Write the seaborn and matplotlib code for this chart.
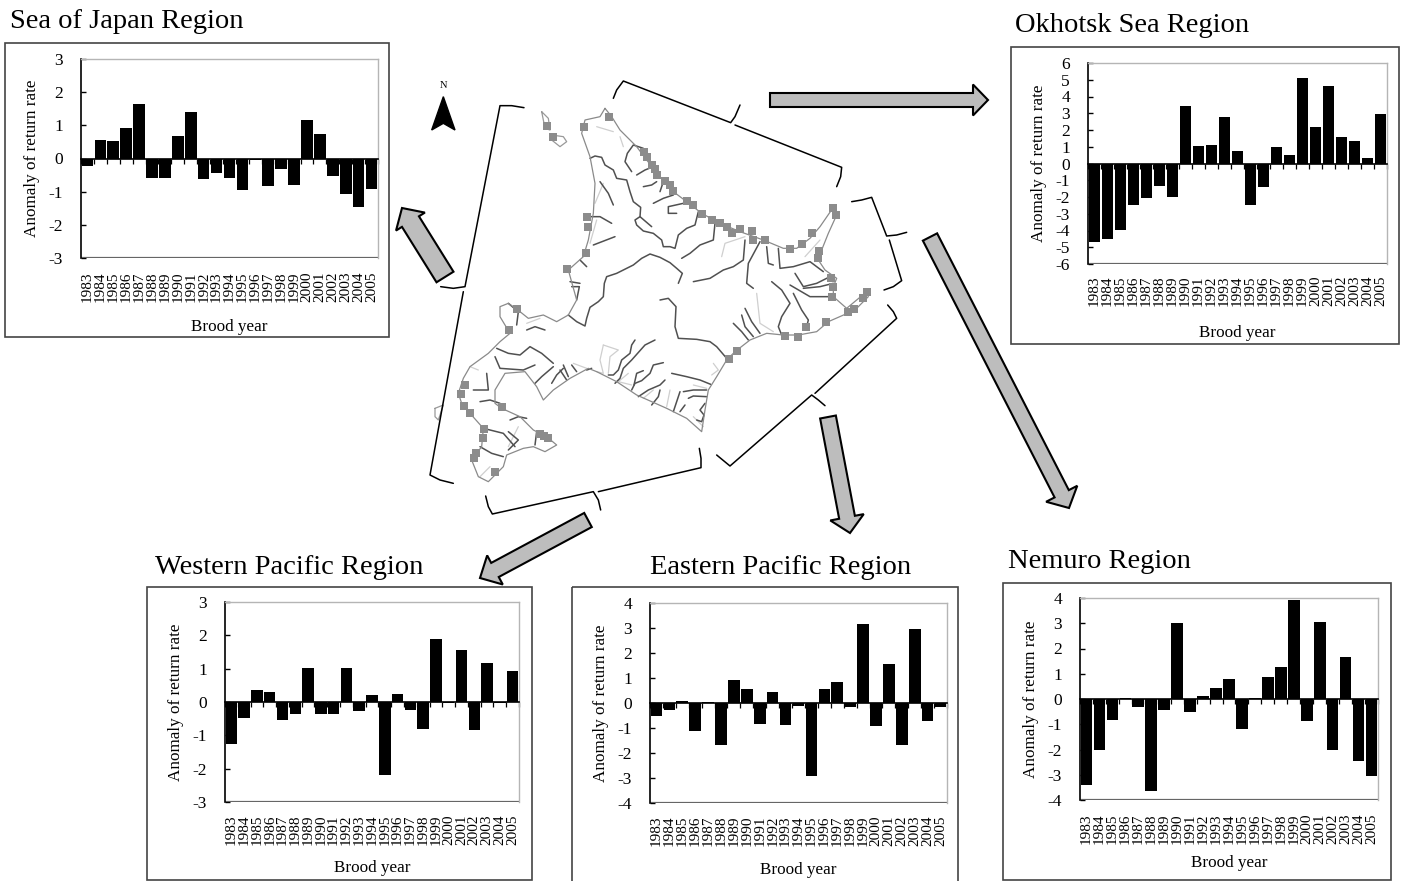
import numpy as np
import pandas as pd
import matplotlib
matplotlib.use('Agg')
import matplotlib.pyplot as plt
from matplotlib.patches import FancyArrow, Polygon, Rectangle
from matplotlib.ticker import FixedLocator
import seaborn as sns

# Brood years and anomaly values
years = [str(y) for y in range(1983, 2006)]
japan = [-0.22, 0.57, 0.54, 0.91, 1.64, -0.6, -0.6, 0.69, 1.4, -0.62, -0.43, -0.6,
         -0.95, -0.05, -0.82, -0.33, -0.8, 1.15, 0.74, -0.53, -1.06, -1.45, -0.92]
okhotsk = [-4.7, -4.5, -3.95, -2.45, -2.05, -1.35, -2.0, 3.45, 1.05, 1.1, 2.8, 0.75,
           -2.45, -1.4, 1.0, 0.5, 5.1, 2.15, 4.6, 1.6, 1.35, 0.35, 2.95]
western = [-1.27, -0.48, 0.35, 0.3, -0.55, -0.35, 1.03, -0.35, -0.35, 1.03, -0.27, 0.2,
           -2.2, 0.25, -0.25, -0.82, 1.88, -0.03, 1.55, -0.85, 1.18, -0.03, 0.93]
eastern = [-0.5, -0.27, 0.1, -1.13, 0.03, -1.68, 0.93, 0.57, -0.82, 0.43, -0.87, -0.1,
           -2.93, 0.57, 0.83, -0.17, 3.17, -0.92, 1.55, -1.68, 2.98, -0.72, -0.15]
nemuro = [-3.4, -2.0, -0.85, 0.05, -0.33, -3.65, -0.42, 3.02, -0.52, 0.1, 0.43, 0.8,
          -1.17, 0.03, 0.87, 1.27, 3.93, -0.87, 3.05, -2.0, 1.65, -2.47, -3.05]

# Map shapes, traced in the 3x crop of the map (x-420)*3, (y-70)*3
coast = [(555,115),(575,140),(600,180),(650,230),(680,270),(720,320),(760,365),(800,395),
         (845,430),(900,460),(960,485),(1030,510),(1090,535),(1130,535),(1170,505),(1200,470),
         (1238,415),(1250,435),(1225,490),(1205,540),(1195,570),(1215,600),(1250,625),(1240,650),
         (1240,680),(1280,715),(1340,665),(1345,680),(1305,720),(1225,755),(1190,785),(1135,795),
         (1090,795),(1040,790),(990,810),(945,845),(920,870),(890,920),(865,960),(855,1020),
         (845,1085),(800,1045),(740,1015),(650,975),(590,935),(530,905),(505,895),(450,925),
         (400,960),(370,990),(350,950),(315,905),(255,910),(225,960),(225,1000),(245,1015),
         (300,1040),(340,1080),(380,1100),(410,1125),(375,1145),(340,1130),(310,1135),(260,1155),
         (250,1190),(205,1235),(175,1220),(155,1170),(185,1130),(190,1075),(150,1030),(125,1000),
         (115,970),(130,925),(150,890),(205,850),(240,815),(270,790),(240,740),(240,710),
         (265,700),(300,725),(325,745),(370,735),(410,755),(445,735),(470,690),(445,600),
         (490,560),(505,510),(520,430),(525,340),(510,260),(485,190),(495,150),(540,140),(555,115)]
islands = [[(45,1015),(70,1005),(55,1050),(45,1040),(45,1015)],
           [(395,195),(430,200),(440,215),(420,230),(395,210),(395,195)],
           [(365,125),(385,145),(390,180),(375,175),(365,125)]]
rivers = [[(445,735),(470,755),(495,768),(500,745),(510,712),(535,695),(550,680),(553,640),(560,620),
           (590,610),(610,600),(640,585),(665,565),(690,552),(720,562),(750,578),(770,595),(787,610),(775,640)],
          [(510,265),(525,258),(545,262),(555,285),(580,300),(590,325),(620,330),(630,365),(640,395),(662,412),
           (660,440),(645,450),(650,465),(670,483),(700,490),(725,510),(730,530),(750,530),(765,535),(775,495),
           (800,475),(825,465),(835,425)],
          [(660,440),(695,470)], [(670,235),(640,225),(622,250),(615,275),(635,305)],
          [(700,290),(675,300),(650,315)], [(710,335),(695,345),(670,350)], [(730,335),(720,365)],
          [(760,375),(730,385),(700,400)], [(790,400),(745,410),(745,430),(770,430)],
          [(885,460),(880,510),(840,525),(810,550),(785,565)],
          [(975,510),(970,570),(940,590),(910,600),(870,625),(820,635)],
          [(1020,515),(985,580),(980,640),(1000,655)], [(1040,530),(1045,580),(1060,585)],
          [(1075,535),(1080,595),(1120,590),(1170,575),(1210,605)],
          [(1055,635),(1085,660),(1110,700),(1085,740),(1075,770),(1085,795)],
          [(920,865),(890,830),(870,815),(830,808),(775,805),(765,770),(768,710),(745,685),(720,690)],
          [(1120,670),(1145,720),(1165,750),(1160,770)], [(1125,610),(1150,650),(1190,640),(1230,620)],
          [(1110,645),(1170,680),(1230,680)], [(1150,655),(1200,650),(1240,640)],
          [(940,760),(965,785),(985,810)], [(965,735),(975,770),(1000,800)], [(975,715),(995,755),(1020,790)],
          [(265,700),(295,725),(290,765)], [(320,780),(345,770),(375,780)],
          [(230,835),(265,850),(300,855),(330,830),(365,850),(400,880)],
          [(225,860),(240,895),(310,900),(345,885)],
          [(345,940),(365,920),(400,890)], [(395,940),(410,915),(430,895)], [(200,910),(205,960),(160,960)],
          [(180,995),(210,990),(240,1000)], [(190,1075),(250,1090),(285,1130)], [(180,1130),(215,1150),(250,1160)],
          [(270,1050),(295,1040),(320,1045)], [(350,1085),(345,1125)], [(265,1085),(295,1110),(265,1140)],
          [(480,640),(450,635)], [(480,570),(500,590)], [(470,690),(478,650),(455,650)],
          [(505,440),(540,440),(575,460)], [(520,525),(585,500)], [(540,335),(565,370),(580,405)]]
pale_rivers = [[(1010,670),(1020,760),(1060,785)], [(905,560),(915,520),(975,500)],
               [(600,200),(610,230)], [(530,170),(580,185)], [(525,400),(550,340)], [(510,520),(530,450)],
               [(150,890),(175,900)], [(320,760),(360,745)], [(460,880),(500,895)],
               [(1155,560),(1200,510)], [(180,1220),(210,1190)], [(265,1130),(295,1070)]]

# Same kind of trace for the south coast, from a tighter crop: 560+x/3, 340+y/3
south_rivers = [[(225,0),(215,15),(210,40),(185,60),(175,90),(160,105),(145,105)],
                [(285,0),(255,15),(215,60),(190,85),(180,115),(165,130)],
                [(310,68),(280,75),(270,100),(245,122),(225,130),(215,150)],
                [(250,92),(230,100),(222,135)], [(315,120),(300,135),(265,150),(235,170)],
                [(300,150),(295,170),(275,195)], [(360,155),(350,185),(340,215)], [(375,195),(360,215)],
                [(335,100),(380,110),(420,120),(452,133)], [(440,150),(400,150),(370,155)],
                [(440,170),(400,168),(385,175)], [(435,190),(420,210),(432,225),(425,245),(410,240)],
                [(80,90),(95,85)], [(35,75),(50,95)], [(10,75),(25,110)], [(0,90),(20,120)]]
south_pale = [[(130,15),(120,60),(130,100),(110,95)], [(130,15),(175,30),(150,50),(145,100)],
              [(205,100),(175,125),(215,135)], [(460,70),(475,90),(455,105)], [(400,135),(440,145)],
              [(330,150),(320,200)], [(400,230),(430,260)], [(280,150),(250,175)]]

hatcheries = [(567,142),(491,171),(381,167),(400,202),(673,245),(682,262),(697,285),(706,298),
              (712,316),(735,332),(750,345),(760,362),(800,393),(818,405),(846,431),(877,449),
              (900,458),(920,470),(935,490),(960,478),(997,483),(998,511),(1034,510),(1110,537),
              (1146,522),(1175,490),(1238,415),(1248,435),(1198,542),(1193,564),(1232,625),(1238,652),
              (1235,682),(1340,667),(1330,685),(1303,716),(1285,725),(1218,755),(1157,772),(1135,800),
              (1095,797),(950,843),(926,868),(501,441),(503,472),(497,550),(442,597),(292,718),
              (268,780),(134,945),(123,973),(133,1008),(150,1030),(245,1012),(193,1078),(190,1103),
              (168,1148),(163,1165),(225,1207),(360,1092),(372,1098),(385,1103)]
brackets = [[(580,85),(590,60),(610,33),(932,158),(945,140),(960,105)],
            [(945,165),(1265,292),(1262,320),(1250,350)],
            [(312,113),(275,107),(240,107),(135,650),(100,655),(62,650)],
            [(130,665),(30,1215),(60,1230),(100,1240)],
            [(197,1278),(205,1310),(217,1332),(520,1265),(535,1290),(542,1320)],
            [(535,1265),(843,1193),(843,1165),(838,1135)],
            [(890,1155),(930,1188),(1175,975),(1195,990),(1215,1007)],
            [(1185,970),(1430,745),(1420,725),(1403,705)],
            [(1295,395),(1325,390),(1355,382),(1400,498),(1430,495),(1460,487)],
            [(1408,510),(1445,632),(1420,650),(1392,660)]]
north_arrow = [(70,80),(35,180),(70,160),(105,180)]

# tail x, tail y, tip x, tip y, shaft width, head width, head length (pixels)
arrows = [(770,100,988,100,14,31,15), (445,277,402,208,20,34,16), (930,237,1069,508,16,35,16),
          (828,417,850,533,16,34,16), (588,520,480,578,16,33,17)]

# name, values, title spot, frame, axes box, y limit, tick label top, xlabel y
panels = [
    ('Sea of Japan Region', japan, (10,21), (5,43,389,337), (81,59,378,258), 3, 272, 327),
    ('Okhotsk Sea Region', okhotsk, (1015,25), (1011,47,1399,344), (1088,63,1387,264), 6, 277, 333),
    ('Western Pacific Region', western, (155,567), (147,587,532,880), (225,602,519,802), 3, 815, 868),
    ('Eastern Pacific Region', eastern, (650,567), (572,587,958,890), (650,603,947,803), 4, 817, 870),
    ('Nemuro Region', nemuro, (1008,561), (1003,583,1391,880), (1080,598,1378,800), 4, 814, 863),
]

W, H = 1401, 881
sns.set_theme(style='white')
plt.rcParams['font.family'] = ['Liberation Serif', 'DejaVu Serif']
plt.rcParams['axes.unicode_minus'] = False

fig = plt.figure(figsize=(W / 100, H / 100), dpi=100)
bg = fig.add_axes([0, 0, 1, 1])
bg.set_xlim(0, W)
bg.set_ylim(H, 0)
bg.axis('off')


def crop_xy(points):
    pts = np.array(points, dtype=float)
    return 420 + pts[:, 0] / 3, 70 + pts[:, 1] / 3


def south_xy(points):
    pts = np.array(points, dtype=float)
    return 560 + pts[:, 0] / 3, 340 + pts[:, 1] / 3


# Map in the middle
for river in pale_rivers:
    bg.plot(*crop_xy(river), color='#cfcfcf', lw=0.9)
for river in south_pale:
    bg.plot(*south_xy(river), color='#cfcfcf', lw=0.9)
for river in rivers:
    bg.plot(*crop_xy(river), color='#505050', lw=1.1)
for river in south_rivers:
    bg.plot(*south_xy(river), color='#505050', lw=1.1)
bg.plot(*crop_xy(coast), color='#8a8a8a', lw=0.9)
for island in islands:
    bg.plot(*crop_xy(island), color='#999999', lw=0.9)
hx, hy = crop_xy(hatcheries)
bg.plot(hx, hy, ls='none', marker='s', ms=6.0, color='#8c8c8c', mew=0)
for br in brackets:
    bg.plot(*crop_xy(br), color='black', lw=1.1)

nx, ny = crop_xy(north_arrow)
bg.add_patch(Polygon(np.column_stack([nx, ny]), closed=True, color='black'))
bg.text(443, 85, 'N', fontsize=7.5, ha='center', va='center', color='black')

for x0, y0, x1, y1, w, hw, hl in arrows:
    bg.add_patch(FancyArrow(x0, y0, x1 - x0, y1 - y0, width=w, head_width=hw, head_length=hl,
                            length_includes_head=True, facecolor='#bdbdbd', edgecolor='black', lw=1.5))

# The five bar panels
for name, values, title_xy, frame, box, ylim, label_top, xlabel_y in panels:
    bg.text(title_xy[0], title_xy[1], name, fontsize=20.5, ha='left', va='center', color='black')
    bg.add_patch(Rectangle((frame[0], frame[1]), frame[2] - frame[0], frame[3] - frame[1],
                           fill=False, edgecolor='#444444', lw=1.2))

    left, top, right, bottom = box
    ax = fig.add_axes([left / W, 1 - bottom / H, (right - left) / W, (bottom - top) / H])
    ax.patch.set_alpha(0)
    df = pd.DataFrame({'year': years, 'anomaly': values})
    sns.barplot(data=df, x='year', y='anomaly', color='black', saturation=1, width=0.9,
                linewidth=0, ax=ax)
    ax.set_xlim(-0.5, 22.5)
    ax.set_ylim(-ylim, ylim)
    ax.set_yticks(range(-ylim, ylim + 1))

    ax.spines['bottom'].set_position(('data', 0))
    ax.spines['bottom'].set_color('black')
    ax.spines['bottom'].set_linewidth(1.2)
    ax.spines['left'].set_color('black')
    ax.spines['left'].set_linewidth(1.2)
    for side in ['top', 'right']:
        ax.spines[side].set_color('#b5b5b5')
        ax.spines[side].set_linewidth(1.0)
    ax.axhline(-ylim, color='#666666', lw=1.6)

    # Ticks sit between the bars on the zero line, labels stay under the plot
    zero_px = (top + bottom) / 2
    ax.xaxis.set_minor_locator(FixedLocator(np.arange(-0.5, 23)))
    ax.tick_params(axis='x', which='minor', bottom=True, length=3.6, width=0.9, color='black', direction='out')
    ax.tick_params(axis='x', which='major', bottom=True, length=0, rotation=90, labelsize=11,
                   pad=(label_top - 1 - zero_px) * 0.72, colors='black')
    ax.tick_params(axis='y', left=True, length=3.6, width=1, direction='in', labelsize=12.5,
                   pad=13, colors='black')

    ax.set_ylabel('Anomaly of return rate', fontsize=12.3, color='black')
    ax.yaxis.set_label_coords(-41 / (right - left), 0.5)
    ax.set_xlabel('Brood year', fontsize=12.3, color='black')
    ax.xaxis.set_label_coords(0.5, -(xlabel_y - bottom) / (bottom - top))
    ax.xaxis.label.set_verticalalignment('center')

fig.savefig('out.png', dpi=100, facecolor='white')
